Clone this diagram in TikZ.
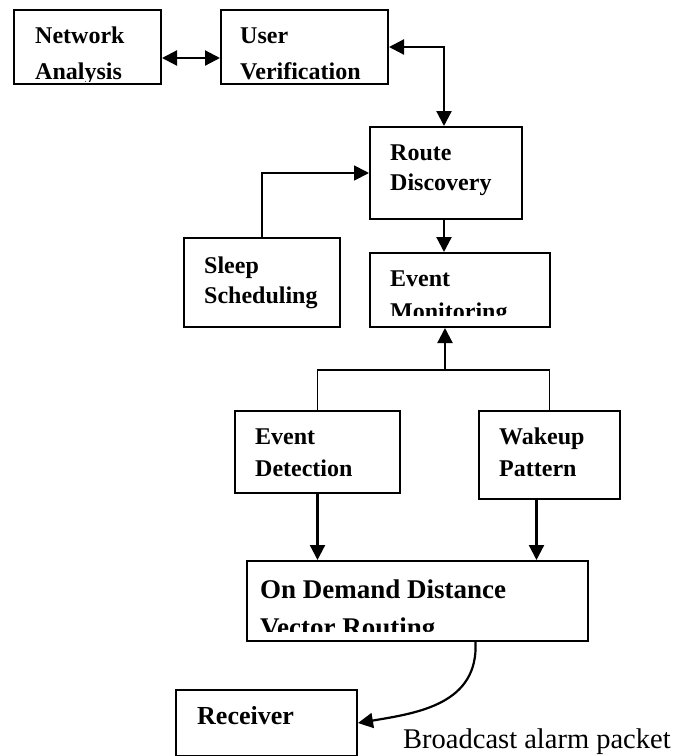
\documentclass[tikz,border=0pt]{standalone}
\usepackage{fontspec}
\setmainfont{Liberation Serif}
\usetikzlibrary{arrows.meta}
\begin{document}
\begin{tikzpicture}[x=1pt,y=-1pt,
  box/.style={draw, line width=2pt, anchor=north west, inner sep=0pt},
  lbl/.style={anchor=base west, inner sep=0pt, align=left},
  tip/.tip={Triangle[length=15pt,width=15pt]},
  arr/.style={line width=2.2pt, -tip},
  darr/.style={line width=2.2pt, tip-tip},
  plain/.style={line width=1.8pt}]
\useasboundingbox (0,0) rectangle (679,756);
% boxes
\node[box, minimum width=147pt, minimum height=74pt] (na) at (13,9) {};
\node[box, minimum width=167pt, minimum height=74pt] (uv) at (220,9) {};
\node[box, minimum width=152pt, minimum height=92pt] (rd) at (369,126) {};
\node[box, minimum width=156pt, minimum height=89pt] (ss) at (183,237) {};
\node[box, minimum width=180pt, minimum height=74pt] (em) at (369,252) {};
\node[box, minimum width=165pt, minimum height=82pt] (ed) at (234,410) {};
\node[box, minimum width=141pt, minimum height=88pt] (wp) at (478,410) {};
\node[box, minimum width=341pt, minimum height=80pt] (od) at (246,560) {};
\node[box, minimum width=181pt, minimum height=66pt] (rc) at (175,689) {};
% texts (clipped like the original text frames); anchor = baseline of last line
\begin{scope}
\clip (13,9) rectangle (160,81);
\node[lbl, font=\bfseries\fontsize{24}{36}\selectfont] (nat) at (35,79) {Network\\Analysis};
\end{scope}
\begin{scope}
\clip (220,9) rectangle (387,81);
\node[lbl, font=\bfseries\fontsize{24}{36}\selectfont] (uvt) at (240,79) {User\\Verification};
\end{scope}
\node[lbl, font=\bfseries\fontsize{24}{30}\selectfont] (rdt) at (390,190) {Route\\Discovery};
\node[lbl, font=\bfseries\fontsize{24}{30}\selectfont] (sst) at (204,303) {Sleep\\Scheduling};
\begin{scope}
\clip (369,252) rectangle (549,315);
\node[lbl, font=\bfseries\fontsize{24}{33}\selectfont] (emt) at (390,319) {Event\\Monitoring};
\end{scope}
\node[lbl, font=\bfseries\fontsize{24}{32}\selectfont] (edt) at (255,476) {Event\\Detection};
\node[lbl, font=\bfseries\fontsize{24}{32}\selectfont] (wpt) at (499,476) {Wakeup\\Pattern};
\begin{scope}
\clip (246,560) rectangle (587,631);
\node[lbl, font=\bfseries\fontsize{27}{38}\selectfont] (odt) at (260,636) {On Demand Distance\\Vector Routing};
\end{scope}
\node[lbl, font=\bfseries\fontsize{26}{30}\selectfont] (rct) at (197,724) {Receiver};
\node[lbl, font=\fontsize{28.5}{32}\selectfont] (bct) at (403,748) {Broadcast alarm packet};
% connectors
\draw[darr] ([yshift=-11pt]na.east) -- ([yshift=-11pt]uv.west);
\draw[darr] (uv.east) -| ([xshift=-2pt]rd.north);
\draw[arr] ([xshift=-2pt]rd.south) -- ([xshift=-2pt]rd.south |- em.north);
\draw[plain, -tip] (ss.north) |- (rd.west);
\coordinate (fork) at (445,370);
\draw[plain] (ed.north) |- (fork) -| (wp.north);
\draw[arr] (fork) -- (fork |- em.south);
\draw[arr] (ed.south) -- (ed.south |- od.north);
\draw[arr] ([xshift=-13pt]wp.south) -- ([xshift=-13pt]wp.south |- od.north);
\draw[arr] ([xshift=58pt]od.south) .. controls +(3,62) and +(60,-10) .. (rc.east);
\end{tikzpicture}
\end{document}
